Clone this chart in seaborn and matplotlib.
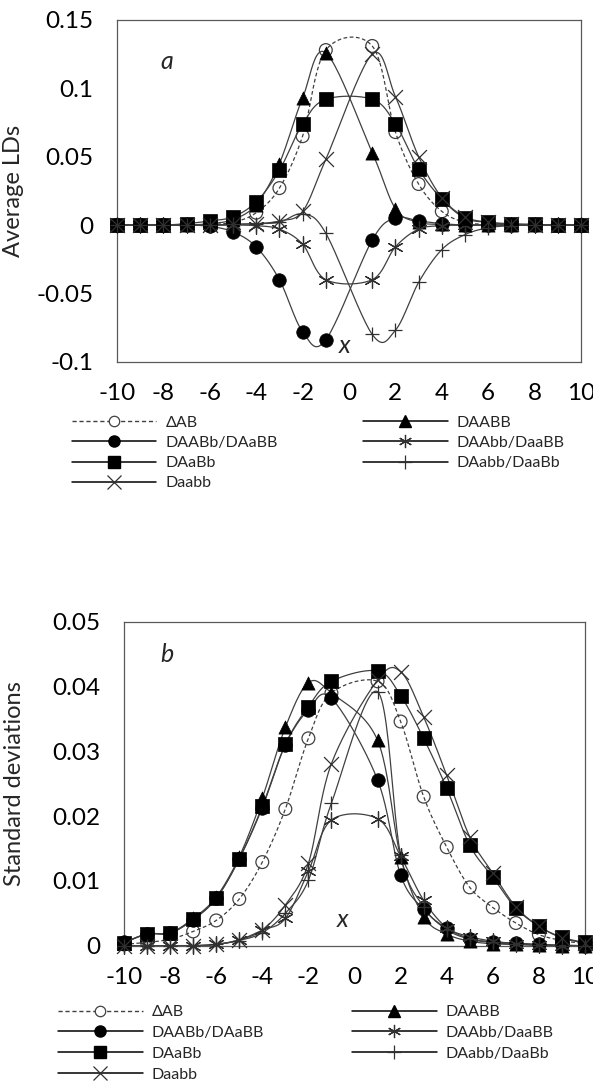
import numpy as np
import matplotlib
matplotlib.use('Agg')
import matplotlib.pyplot as plt
from matplotlib.lines import Line2D
from matplotlib.ticker import FixedLocator, FuncFormatter
import seaborn as sns

# x positions (no point at 0)
x_vals = [-10, -9, -8, -7, -6, -5, -4, -3, -2, -1, 1, 2, 3, 4, 5, 6, 7, 8, 9, 10]

# panel a - average LDs
dab_a = [0, 0, 0, 0, 0.0005, 0.002, 0.009, 0.027, 0.065, 0.128, 0.131, 0.068, 0.030, 0.010, 0.002, 0.0005, 0, 0, 0, 0]
d_AABB_a = [0, 0, 0, 0, 0.001, 0.004, 0.015, 0.045, 0.093, 0.126, 0.053, 0.012, 0.002, 0.0005, 0, 0, 0, 0, 0, 0]
d_AABb_a = [0, 0, 0, 0, -0.001, -0.005, -0.016, -0.040, -0.078, -0.084, -0.011, 0.005, 0.003, 0.001, 0, 0, 0, 0, 0, 0]
d_AAbb_a = [0, 0, 0, 0, 0, 0, -0.0005, -0.003, -0.014, -0.040, -0.040, -0.016, -0.003, -0.0005, 0, 0, 0, 0, 0, 0]
d_AaBb_a = [0, 0, 0, 0.001, 0.003, 0.006, 0.017, 0.040, 0.074, 0.092, 0.092, 0.074, 0.041, 0.019, 0.005, 0.002, 0.001, 0.0005, 0, 0]
d_Aabb_a = [0, 0, 0, 0, 0, 0.0005, 0.001, 0.002, 0.008, -0.006, -0.080, -0.077, -0.042, -0.018, -0.007, -0.002, -0.0005, 0, 0, 0]
d_aabb_a = [0, 0, 0, 0, 0, 0.0005, 0.001, 0.003, 0.010, 0.048, 0.125, 0.094, 0.050, 0.020, 0.006, 0.002, 0.0005, 0, 0, 0]

# panel b - standard deviations
dab_b = [0.0002, 0.0005, 0.001, 0.0022, 0.0039, 0.0072, 0.0129, 0.0211, 0.032, 0.039, 0.0408, 0.0346, 0.023, 0.0152, 0.009, 0.0059, 0.0035, 0.0017, 0.0008, 0.0003]
d_AABB_b = [0.0005, 0.0018, 0.002, 0.0042, 0.0075, 0.0137, 0.0228, 0.0337, 0.0406, 0.039, 0.0317, 0.0137, 0.0045, 0.0018, 0.0007, 0.0003, 0.0002, 0.0001, 0, 0]
d_AABb_b = [0.0005, 0.0018, 0.002, 0.004, 0.0073, 0.0134, 0.0213, 0.031, 0.0364, 0.0382, 0.0256, 0.0109, 0.0056, 0.0027, 0.0011, 0.0006, 0.0004, 0.0002, 0.0001, 0]
d_AAbb_b = [0, 0, 0, 0, 0.0002, 0.0009, 0.0024, 0.0042, 0.0115, 0.0194, 0.0196, 0.0138, 0.007, 0.0028, 0.0014, 0.0007, 0.0003, 0.0001, 0, 0]
d_AaBb_b = [0.0004, 0.0018, 0.0019, 0.0041, 0.0073, 0.0134, 0.0215, 0.0311, 0.0369, 0.0408, 0.0424, 0.0386, 0.032, 0.0243, 0.0155, 0.0106, 0.0058, 0.003, 0.0013, 0.0005]
d_Aabb_b = [0, 0, 0, 0, 0.0002, 0.0008, 0.002, 0.005, 0.0101, 0.022, 0.0392, 0.014, 0.006, 0.0025, 0.001, 0.0005, 0.0002, 0.0001, 0, 0]
d_aabb_b = [0, 0, 0, 0, 0.0002, 0.0009, 0.0024, 0.0063, 0.0127, 0.0281, 0.041, 0.0423, 0.0353, 0.0263, 0.0168, 0.0112, 0.006, 0.003, 0.0012, 0.0004]

labels = ['ΔAB', 'DAABB', 'DAABb/DAaBB', 'DAAbb/DaaBB', 'DAaBb', 'DAabb/DaaBb', 'Daabb']
x_ticks = list(range(-10, 11, 2))
y_ticks_a = [-0.1, -0.05, 0, 0.05, 0.1, 0.15]
y_ticks_b = [0, 0.01, 0.02, 0.03, 0.04, 0.05]

LINE_COL = '#404040'
AXIS_COL = '#595959'
ASTERISK = (6, 2, 0)

# marker, scatter size, filled
styles = {
    'ΔAB': ('o', 85, False),
    'DAABB': ('^', 90, True),
    'DAABb/DAaBB': ('o', 95, True),
    'DAAbb/DaaBB': (ASTERISK, 125, False),
    'DAaBb': ('s', 100, True),
    'DAabb/DaaBb': ('+', 115, False),
    'Daabb': ('x', 115, False),
}


def smooth_curve(xs, ys, steps=24):
    # excel style smoothed line (bezier through the points)
    pts = np.column_stack([xs, ys]).astype(float)
    n = len(pts)
    out = [pts[0]]
    t = np.linspace(0, 1, steps)[1:, None]
    for i in range(n - 1):
        p0 = pts[max(i - 1, 0)]
        p1 = pts[i]
        p2 = pts[i + 1]
        p3 = pts[min(i + 2, n - 1)]
        c1 = p1 + (p2 - p0) / 6
        c2 = p2 - (p3 - p1) / 6
        seg = (1 - t) ** 3 * p1 + 3 * (1 - t) ** 2 * t * c1 + 3 * (1 - t) * t ** 2 * c2 + t ** 3 * p2
        out.extend(seg)
    out = np.array(out)
    return out[:, 0], out[:, 1]


def draw_series(ax, values, label):
    marker, size, filled = styles[label]
    cx, cy = smooth_curve(x_vals, values)
    ls = (0, (3, 2)) if label == 'ΔAB' else '-'
    sns.lineplot(x=cx, y=cy, ax=ax, sort=False, estimator=None, color=LINE_COL,
                 linewidth=0.9, linestyle=ls, zorder=2)
    if filled:
        sns.scatterplot(x=x_vals, y=values, ax=ax, marker=marker, s=size, color='black',
                        edgecolor='black', linewidth=0.5, zorder=3, clip_on=False)
    elif marker == 'o':
        sns.scatterplot(x=x_vals, y=values, ax=ax, marker=marker, s=size, color=LINE_COL,
                        facecolor='none', edgecolor=LINE_COL, linewidth=0.9, zorder=3, clip_on=False)
    else:
        sns.scatterplot(x=x_vals, y=values, ax=ax, marker=marker, s=size, color='#303030',
                        linewidth=0.9, zorder=3, clip_on=False)


def style_axes(ax, yticks, ylabel):
    ax.set_xlim(-10, 10)
    ax.set_ylim(yticks[0], yticks[-1])
    ax.xaxis.set_major_locator(FixedLocator(x_ticks))
    ax.yaxis.set_major_locator(FixedLocator(yticks))
    fmt = FuncFormatter(lambda v, p: f'{v:g}')
    ax.xaxis.set_major_formatter(fmt)
    ax.yaxis.set_major_formatter(fmt)
    for sp in ax.spines.values():
        sp.set_visible(True)
        sp.set_color(AXIS_COL)
        sp.set_linewidth(0.9)
    ax.tick_params(axis='both', direction='out', length=6, width=0.9, color=AXIS_COL,
                   labelsize=17.5, labelcolor='black')
    ax.tick_params(axis='x', pad=9.5)
    ax.tick_params(axis='y', pad=11)
    ax.set_ylabel(ylabel, fontsize=17)
    ax.set_xlabel('')


def legend_handle(label):
    marker, size, filled = styles[label]
    if filled:
        return Line2D([], [], color='black', lw=1.1, marker=marker, ms=8,
                      mfc='black', mec='black')
    if marker == 'o':
        return Line2D([], [], color=LINE_COL, lw=1.0, ls=(0, (3, 2)), marker='o', ms=7.5,
                      mfc='white', mec=LINE_COL, mew=0.9)
    return Line2D([], [], color='black', lw=1.1, marker=marker, ms=9.5, mec='#303030', mew=0.9)


def add_legend(fig, x_left, x_right, y_top, spacing):
    col1 = ['ΔAB', 'DAABb/DAaBB', 'DAaBb', 'Daabb']
    col2 = ['DAABB', 'DAAbb/DaaBB', 'DAabb/DaaBb']
    for names, xl in [(col1, x_left), (col2, x_right)]:
        fig.legend(handles=[legend_handle(n) for n in names], labels=names,
                   loc='upper left', bbox_to_anchor=(xl / 593, 1 - y_top / 1081),
                   frameon=False, fontsize=11.5, handlelength=5.3, handletextpad=0.56,
                   borderpad=0, borderaxespad=0, labelspacing=spacing)


sns.set_style('white')
plt.rcParams['font.family'] = ['Lato', 'DejaVu Sans']
plt.rcParams['mathtext.default'] = 'regular'

fig = plt.figure(figsize=(5.93, 10.81), dpi=100)
ax_a = fig.add_axes([117 / 593, 1 - 361.7 / 1081, 464 / 593, 341.7 / 1081])
ax_b = fig.add_axes([124 / 593, 1 - 945.7 / 1081, 461 / 593, 324 / 1081])

series_a = [dab_a, d_AABB_a, d_AABb_a, d_AAbb_a, d_AaBb_a, d_Aabb_a, d_aabb_a]
series_b = [dab_b, d_AABB_b, d_AABb_b, d_AAbb_b, d_AaBb_b, d_Aabb_b, d_aabb_b]

for vals, lab in zip(series_a, labels):
    draw_series(ax_a, vals, lab)
for vals, lab in zip(series_b, labels):
    draw_series(ax_b, vals, lab)

style_axes(ax_a, y_ticks_a, 'Average LDs')
style_axes(ax_b, y_ticks_b, 'Standard deviations')
ax_a.yaxis.set_label_coords(-0.2, 0.5)
ax_b.yaxis.set_label_coords(-0.215, 0.5)

ax_a.text(-7.85, 0.1195, 'a', fontsize=18, style='italic', ha='center', va='center')
ax_a.text(-0.2, -0.088, 'x', fontsize=18, style='italic', ha='center', va='center')
ax_b.text(-8.15, 0.0449, 'b', fontsize=18, style='italic', ha='center', va='center')
ax_b.text(-0.5, 0.0041, 'x', fontsize=18, style='italic', ha='center', va='center')

add_legend(fig, 71.7, 363, 415.5, 0.38)
add_legend(fig, 58, 352, 1005, 0.42)

fig.savefig('out.png', dpi=100, facecolor='white')
